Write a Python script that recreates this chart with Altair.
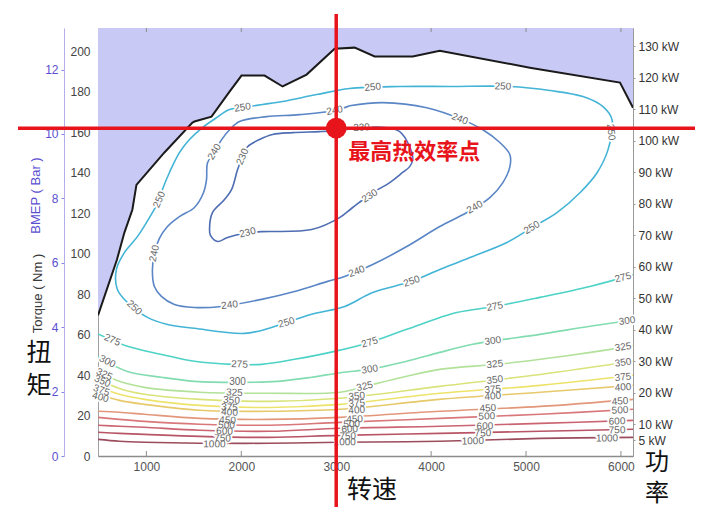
import math
import pandas as pd
import altair as alt

# ---------------- axis ticks / domains ----------------
X_TICKS = [1000, 2000, 3000, 4000, 5000, 6000]
TORQUE_TICKS = [0, 20, 40, 60, 80, 100, 120, 140, 160, 180, 200]
BMEP_TICKS = [0, 2, 4, 6, 8, 10, 12]
POWER_TICKS = [5, 10, 20, 30, 40, 50, 60, 70, 80, 90, 100, 110, 120, 130]

RPM_MIN, RPM_MAX = 490, 6127
NM_MAX = 211.5
BMEP_MAX = 13.29
KW_MAX = 135.8

LEVELS = [230, 240, 250, 275, 300, 325, 350, 375, 400, 450, 500, 600, 750, 1000]
LEVEL_COLORS = ["#4e6db3", "#5a86c6", "#43b4d6", "#4dd2c6", "#82dcb0", "#b2e19a", "#d9e37a",
                "#ede36b", "#e6c96b", "#e3977a", "#d9787b", "#cb6471", "#b85566", "#9c4d5d"]

# ---------------- max torque curve ----------------
maxt_rpm = [490, 690, 768, 852, 895, 1190, 1485, 1506, 1686, 1876, 2002, 2245, 2435, 2688,
            2983, 3194, 3405, 3806, 4091, 5040, 5990, 6127]
maxt_nm = [69.5, 97.1, 110.4, 121.7, 134.0, 150.0, 164.8, 165.3, 167.7, 180.1, 188.0, 188.0,
           182.6, 188.5, 201.3, 201.8, 197.4, 197.4, 200.3, 191.9, 184.5, 172.1]

# ---------------- BSFC contours (g/kWh) ----------------
c230_rpm = [2066, 1855, 1749, 1675, 1665, 1696, 1823, 1897, 1960, 2013, 2066, 2192, 2329, 2540,
            2825, 3004, 3300, 3511, 3669, 3774, 3806, 3774, 3700, 3564, 3384, 3173, 3036, 2741,
            2213, 2066]
c230_nm = [110.4, 108.0, 106.0, 109.0, 111.9, 120.3, 126.7, 131.6, 141.4, 147.9, 152.8, 156.4,
           158.9, 159.8, 160.3, 160.8, 162.3, 162.3, 160.3, 152.8, 146.4, 143.0, 140.1, 135.1,
           130.1, 122.8, 117.8, 111.9, 110.9, 110.4]

c240_rpm = [3142, 2983, 2614, 2266, 1981, 1876, 1791, 1717, 1644, 1633, 1601, 1506, 1348, 1222,
            1137, 1084, 1063, 1084, 1158, 1295, 1506, 1791, 2213, 2561, 2909, 3089, 3384, 3743,
            4091, 4376, 4619, 4756, 4830, 4830, 4724, 4545, 4334, 3954, 3490, 3142]
c240_nm = [173.1, 170.7, 168.7, 167.7, 165.3, 161.2, 156.2, 150.3, 144.9, 136.5, 130.1, 122.8,
           118.3, 113.4, 107.5, 100.1, 91.7, 83.8, 78.9, 74.9, 73.4, 73.9, 77.4, 81.3, 86.3,
           88.7, 94.6, 103.5, 113.4, 120.3, 127.7, 135.1, 143.0, 148.9, 154.9, 161.2, 166.1,
           172.1, 174.6, 173.1]

c250_rpm = [2066, 1876, 1739, 1591, 1454, 1348, 1243, 1169, 1137, 1063, 905, 768, 684, 694, 800,
            1011, 1222, 1506, 2034, 2319, 2741, 3089, 3384, 3796, 4091, 4439, 4798, 5062, 5326,
            5568, 5748, 5864, 5906, 5811, 5600, 5252, 4830, 4197, 3669, 3142, 2794, 2435, 2224,
            2066]
c250_nm = [172.6, 171.2, 167.2, 162.3, 156.4, 149.9, 140.1, 131.7, 126.7, 120.3, 108.4, 100.5,
           92.2, 82.3, 75.9, 68.5, 65.0, 63.1, 60.6, 63.5, 70.0, 73.9, 80.8, 86.3, 92.2, 98.6,
           105.5, 112.9, 120.3, 130.1, 140.0, 151.4, 166.2, 172.6, 177.6, 180.6, 182.6, 182.6,
           182.6, 181.6, 178.6, 175.2, 173.7, 172.6]

c275_rpm = [490, 800, 1160, 1506, 1897, 2213, 2561, 2983, 3353, 3743, 4270, 4671, 5146, 5674, 6127]
c275_nm = [60.3, 54.2, 50.2, 46.8, 45.3, 45.3, 47.8, 51.7, 56.1, 62.6, 70.9, 73.9, 78.4, 83.8, 89.5]

c300_rpm = [490, 800, 1160, 1506, 1960, 2382, 2741, 3057, 3353, 3743, 4091, 4439, 4692, 5146,
            5674, 6127]
c300_nm = [49.0, 41.8, 38.9, 36.9, 36.4, 36.9, 38.9, 41.3, 42.8, 46.8, 51.2, 55.2, 57.1, 60.1,
           64.1, 67.2]

c325_rpm = [490, 715, 980, 1560, 2300, 3040, 3300, 3700, 4090, 4700, 5150, 5680, 6127]
c325_nm = [41.8, 36.9, 33.9, 31.5, 31.0, 31.5, 34.4, 38.9, 42.8, 45.3, 47.8, 51.2, 54.4]

LOW_RPM = [490, 715, 980, 1560, 2300, 3040, 4090, 5150, 6127]
c350_nm = [37.9, 33.4, 30.5, 28.0, 27.0, 28.5, 34.4, 40.3, 46.8]
c375_nm = [34.4, 30.5, 28.0, 25.0, 24.0, 25.5, 31.0, 34.9, 39.9]
c400_nm = [30.5, 27.5, 25.5, 22.6, 22.1, 23.1, 28.0, 31.5, 34.9]
c450_nm = [22.1, 21.6, 20.6, 18.6, 18.1, 19.1, 22.1, 24.5, 28.0]
c500_nm = [19.1, 18.1, 17.1, 15.7, 15.2, 16.6, 18.6, 20.6, 23.1]
c600_nm = [15.2, 14.7, 14.2, 12.7, 12.2, 13.7, 14.7, 16.1, 17.6]
c750_nm = [11.7, 11.2, 10.7, 9.7, 9.2, 10.2, 11.2, 12.2, 13.2]
c1000_nm = [8.2, 7.3, 6.8, 6.3, 6.3, 6.8, 7.3, 8.7, 9.2]

# ---------------- contour label anchors ----------------
lab230_rpm = [2013, 3353, 2066, 3268]
lab230_nm = [147.9, 128.5, 110.4, 162.3]
lab240_rpm = [2983, 1717, 1084, 1876, 3216, 4460, 4302]
lab240_nm = [170.7, 150.3, 100.1, 74.6, 91.2, 122.9, 166.5]
lab250_rpm = [2013, 1137, 873, 2477, 3796, 5062, 5895, 4756, 3384]
lab250_nm = [172.2, 126.7, 73.3, 65.9, 86.3, 112.9, 160.0, 182.6, 182.2]
lab275_rpm = [641, 1981, 3353, 4671, 6022]
lab275_nm = [57.3, 45.3, 56.1, 73.9, 88.2]
lab300_rpm = [589, 1960, 3353, 4650, 6064]
lab300_nm = [46.7, 36.4, 42.8, 56.9, 66.8]
lab325_rpm = [557, 1928, 3300, 4671, 6022]
lab325_nm = [40.3, 31.3, 34.4, 45.3, 53.8]
lab350_rpm = [536, 1897, 3216, 4671, 6022]
lab350_nm = [36.9, 27.5, 29.5, 37.6, 46.1]
lab375_rpm = [525, 1876, 3216, 4650, 6022]
lab375_nm = [32.4, 24.0, 26.0, 32.9, 38.9]
lab400_rpm = [515, 1876, 3216, 4650, 6022]
lab400_nm = [29.0, 21.6, 22.6, 29.5, 33.9]
lab450_rpm = [1855, 3194, 4598, 5990]
lab450_nm = [17.6, 18.1, 23.6, 27.0]
lab500_rpm = [1844, 3163, 4587, 5990]
lab500_nm = [15.2, 15.7, 19.6, 22.6]
lab600_rpm = [1823, 3142, 4566, 5959]
lab600_nm = [12.2, 13.2, 14.7, 17.1]
lab750_rpm = [1802, 3121, 4545, 5959]
lab750_nm = [8.7, 9.7, 11.2, 12.7]
lab1000_rpm = [1717, 3089, 4439, 5853]
lab1000_nm = [5.8, 6.8, 7.3, 8.7]

# ---------------- peak efficiency point ----------------
peak_rpm = [3000]
peak_nm = [162.0]
peak_text = ["最高热效率点"]

# ---------------- hand-written axis notes ----------------
note_torque = ["扭", "矩"]
note_speed = "转速"
note_power = ["功", "率"]

# =====================================================
W, H = 535, 428
KX = W / (RPM_MAX - RPM_MIN)
KY = H / NM_MAX

contours = [
    (230, c230_rpm, c230_nm, lab230_rpm, lab230_nm),
    (240, c240_rpm, c240_nm, lab240_rpm, lab240_nm),
    (250, c250_rpm, c250_nm, lab250_rpm, lab250_nm),
    (275, c275_rpm, c275_nm, lab275_rpm, lab275_nm),
    (300, c300_rpm, c300_nm, lab300_rpm, lab300_nm),
    (325, c325_rpm, c325_nm, lab325_rpm, lab325_nm),
    (350, LOW_RPM, c350_nm, lab350_rpm, lab350_nm),
    (375, LOW_RPM, c375_nm, lab375_rpm, lab375_nm),
    (400, LOW_RPM, c400_nm, lab400_rpm, lab400_nm),
    (450, LOW_RPM, c450_nm, lab450_rpm, lab450_nm),
    (500, LOW_RPM, c500_nm, lab500_rpm, lab500_nm),
    (600, LOW_RPM, c600_nm, lab600_rpm, lab600_nm),
    (750, LOW_RPM, c750_nm, lab750_rpm, lab750_nm),
    (1000, LOW_RPM, c1000_nm, lab1000_rpm, lab1000_nm),
]


def label_angle(rpms, nms, r, t):
    best = min(range(len(rpms)),
               key=lambda i: ((rpms[i] - r) * KX) ** 2 + ((nms[i] - t) * KY) ** 2)
    i0 = max(best - 1, 0)
    i1 = min(best + 1, len(rpms) - 1)
    dx = (rpms[i1] - rpms[i0]) * KX
    dy = -(nms[i1] - nms[i0]) * KY
    a = math.degrees(math.atan2(dy, dx))
    if a > 90:
        a -= 180
    if a < -90:
        a += 180
    return a % 360


line_rows, lab_rows = [], []
for lvl, rr, nn, lr, ln in contours:
    for i, (r, t) in enumerate(zip(rr, nn)):
        line_rows.append({"level": str(lvl), "idx": i, "rpm": r, "nm": t})
    for r, t in zip(lr, ln):
        lab_rows.append({"label": str(lvl), "rpm": r, "nm": t,
                         "angle": label_angle(rr, nn, r, t)})

line_df = pd.DataFrame(line_rows)
lab_df = pd.DataFrame(lab_rows)
maxt_df = pd.DataFrame({"rpm": maxt_rpm, "nm": maxt_nm})
peak_df = pd.DataFrame({"rpm": peak_rpm, "nm": peak_nm, "txt": peak_text})
xt_df = pd.DataFrame({"rpm": X_TICKS})
one = pd.DataFrame({"a": [0]})

FONT = "Liberation Sans"
CJK = "Noto Sans CJK SC"
RED = "#e8141c"

xscale = alt.Scale(domain=[RPM_MIN, RPM_MAX], nice=False, zero=False)
yscale = alt.Scale(domain=[0, NM_MAX], nice=False, zero=True)

X = alt.X("rpm:Q", scale=xscale,
          axis=alt.Axis(values=X_TICKS, format="d", title="", labelColor="#555555",
                        labelFontSize=12, labelFont=FONT, ticks=False, labelPadding=5,
                        domainColor="#8c8c8c", domainWidth=1.5, grid=False, labelFlush=False))
Y = alt.Y("nm:Q", scale=yscale,
          axis=alt.Axis(values=TORQUE_TICKS, title="Torque ( Nm )", titleX=-61, titleY=265,
                        titleAngle=270, titleColor="#3a3a3a", titleFontSize=13,
                        titleFont=FONT, titleFontWeight="normal", titleAlign="center",
                        titleBaseline="middle", labelColor="#444444", labelFontSize=12,
                        labelFont=FONT, ticks=False, labelPadding=8, domainColor="#a0a0a0",
                        grid=False))

area = alt.Chart(maxt_df).mark_area(color="#c9c9f5", opacity=1, clip=True).encode(
    x=X, y=Y, y2=alt.datum(NM_MAX))

lines = alt.Chart(line_df).mark_line(strokeWidth=1.6, interpolate="catmull-rom", clip=True).encode(
    x=X, y=Y,
    color=alt.Color("level:N", scale=alt.Scale(domain=[str(v) for v in LEVELS], range=LEVEL_COLORS),
                    legend=None),
    detail="level:N",
    order=alt.Order("idx:Q"))

maxline = alt.Chart(maxt_df).mark_line(color="#1a1a1a", strokeWidth=2, clip=True).encode(x=X, y=Y)

halo = alt.Chart(lab_df).mark_text(fontSize=10, font=FONT, color="white", stroke="white",
                                   strokeWidth=3.5, strokeJoin="round").encode(
    x=X, y=Y, text="label:N", angle=alt.Angle("angle:Q", scale=None))
labels = alt.Chart(lab_df).mark_text(fontSize=10, font=FONT, color="#666666").encode(
    x=X, y=Y, text="label:N", angle=alt.Angle("angle:Q", scale=None))

ticks_b = alt.Chart(xt_df).mark_rule(color="#8c8c8c", strokeWidth=1).encode(
    x=X, y=alt.value(H), y2=alt.value(H - 5))
ticks_t = alt.Chart(xt_df).mark_rule(color="#8c8c8c", strokeWidth=1).encode(
    x=X, y=alt.value(0), y2=alt.value(4))

vrule = alt.Chart(peak_df).mark_rule(color=RED, strokeWidth=3.5, clip=False).encode(
    x=X, y=alt.value(-14), y2=alt.value(479))
hrule = alt.Chart(peak_df).mark_rule(color=RED, strokeWidth=3.5, clip=False).encode(
    y=Y, x=alt.value(-80), x2=alt.value(597))
dot = alt.Chart(peak_df).mark_circle(color=RED, opacity=1, size=430).encode(x=X, y=Y)
ptext = alt.Chart(peak_df).mark_text(color=RED, fontSize=22, fontWeight="bold",
                                     font=CJK, dx=78, dy=24).encode(
    x=X, y=Y, text="txt:N")

n_torque = alt.Chart(one).mark_text(text=note_torque, fontSize=25, font=CJK, color="#111111",
                                    baseline="top", lineHeight=33).encode(
    x=alt.value(-59), y=alt.value(313))
n_speed = alt.Chart(one).mark_text(text=note_speed, fontSize=25, font=CJK, color="#111111").encode(
    x=alt.value(274), y=alt.value(462))
n_power = alt.Chart(one).mark_text(text=note_power, fontSize=24, font=CJK, color="#111111",
                                   baseline="top", lineHeight=31).encode(
    x=alt.value(559), y=alt.value(423))

main = alt.layer(area, lines, maxline, halo, labels, ticks_b, ticks_t,
                 vrule, hrule, dot, ptext, n_torque, n_speed, n_power)

bmep = alt.Chart(pd.DataFrame({"bmep": [0, BMEP_MAX]})).mark_point(opacity=0).encode(
    y=alt.Y("bmep:Q", scale=alt.Scale(domain=[0, BMEP_MAX], nice=False),
            axis=alt.Axis(orient="left", offset=34, values=BMEP_TICKS, title="BMEP ( Bar )",
                          titleX=-29, titleY=167, titleAngle=270, titleAlign="center",
                          titleBaseline="middle", titleColor="#5a4fcf", titleFontSize=13,
                          titleFont=FONT, titleFontWeight="normal", labelColor="#5a4fcf",
                          labelFontSize=12, labelFont=FONT, tickColor="#8a82e0", tickSize=3,
                          labelPadding=3, domainColor="#b3adea", grid=False)))

power = alt.Chart(pd.DataFrame({"kw": [0, KW_MAX]})).mark_point(opacity=0).encode(
    y=alt.Y("kw:Q", scale=alt.Scale(domain=[0, KW_MAX], nice=False),
            axis=alt.Axis(orient="right", values=POWER_TICKS, title="",
                          labelExpr="datum.value + ' kW'", labelColor="#333333",
                          labelFontSize=12, labelFont=FONT, tickColor="#999999", tickSize=2,
                          labelPadding=3, domain=False, grid=False)))

chart = alt.layer(main, bmep, power).resolve_scale(y="independent").properties(
    width=W, height=H,
    padding={"left": 90, "top": 20, "right": 62, "bottom": 64},
    autosize=alt.AutoSizeParams(type="none"),
    background="white",
).configure_view(stroke="#9a9a9a", strokeWidth=1)

chart.save("out.html", embed_options={"renderer": "svg", "actions": False})
